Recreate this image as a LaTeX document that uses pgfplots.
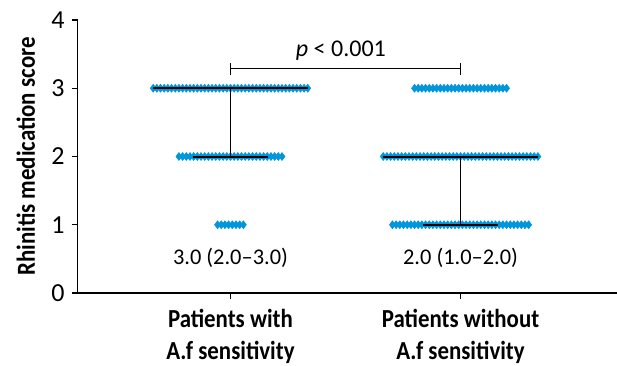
\documentclass[border=0pt]{standalone}
\usepackage{pgfplots}
\pgfplotsset{compat=1.18}
\usepackage{fontspec}
\setmainfont{Carlito}
\newfontfamily\condfont{Carlito}[FakeStretch=0.88]
\definecolor{dotblue}{RGB}{0,150,220}
\begin{document}
\begin{tikzpicture}
\begin{axis}[
  name=ax,
  set layers,
  scale only axis,
  width=269.65pt, height=136.5pt,
  xmin=0.336, xmax=2.68,
  ymin=0, ymax=4,
  axis x line=bottom, axis y line=left,
  axis line style={-, line width=0.6pt},
  tick style={black, line width=0.6pt},
  tick align=outside,
  major tick length=3pt,
  xtick={1,2},
  xticklabels={{Patients with\\A.f sensitivity},{Patients without\\A.f sensitivity}},
  xticklabel style={align=center, yshift=-1.5pt, font=\fontsize{13}{16}\selectfont\condfont\bfseries},
  ytick={0,1,2,3,4},
  yticklabel style={font=\fontsize{13}{15}\selectfont},
  /pgf/number format/assume math mode=true,
  ylabel={Rhinitis medication score},
  ylabel style={at={(axis description cs:-0.0964,0.5)}, anchor=center, font=\fontsize{13}{15}\selectfont\condfont\bfseries},
  clip=false,
]
% group 1, score 3
\addplot[only marks, mark=diamond*, mark size=1.9pt, color=dotblue] coordinates {
(0.664,3)(0.680,3)(0.696,3)(0.712,3)(0.728,3)(0.744,3)(0.760,3)(0.776,3)(0.792,3)(0.808,3)
(0.824,3)(0.840,3)(0.856,3)(0.872,3)(0.888,3)(0.904,3)(0.920,3)(0.936,3)(0.952,3)(0.968,3)
(0.984,3)(1.000,3)(1.016,3)(1.032,3)(1.048,3)(1.064,3)(1.080,3)(1.096,3)(1.112,3)(1.128,3)
(1.144,3)(1.160,3)(1.176,3)(1.192,3)(1.208,3)(1.224,3)(1.240,3)(1.256,3)(1.272,3)(1.288,3)
(1.304,3)(1.320,3)(1.336,3)
};
% group 1, score 2
\addplot[only marks, mark=diamond*, mark size=1.9pt, color=dotblue] coordinates {
(0.776,2)(0.792,2)(0.808,2)(0.824,2)(0.840,2)(0.856,2)(0.872,2)(0.888,2)(0.904,2)(0.920,2)
(0.936,2)(0.952,2)(0.968,2)(0.984,2)(1.000,2)(1.016,2)(1.032,2)(1.048,2)(1.064,2)(1.080,2)
(1.096,2)(1.112,2)(1.128,2)(1.144,2)(1.160,2)(1.176,2)(1.192,2)(1.208,2)(1.224,2)
};
% group 1, score 1
\addplot[only marks, mark=diamond*, mark size=1.9pt, color=dotblue] coordinates {
(0.944,1)(0.960,1)(0.976,1)(0.992,1)(1.008,1)(1.024,1)(1.040,1)(1.056,1)
};
% group 2, score 3
\addplot[only marks, mark=diamond*, mark size=1.9pt, color=dotblue] coordinates {
(1.800,3)(1.816,3)(1.832,3)(1.848,3)(1.864,3)(1.880,3)(1.896,3)(1.912,3)(1.928,3)(1.944,3)
(1.960,3)(1.976,3)(1.992,3)(2.008,3)(2.024,3)(2.040,3)(2.056,3)(2.072,3)(2.088,3)(2.104,3)
(2.120,3)(2.136,3)(2.152,3)(2.168,3)(2.184,3)(2.200,3)
};
% group 2, score 2
\addplot[only marks, mark=diamond*, mark size=1.9pt, color=dotblue] coordinates {
(1.664,2)(1.680,2)(1.696,2)(1.712,2)(1.728,2)(1.744,2)(1.760,2)(1.776,2)(1.792,2)(1.808,2)
(1.824,2)(1.840,2)(1.856,2)(1.872,2)(1.888,2)(1.904,2)(1.920,2)(1.936,2)(1.952,2)(1.968,2)
(1.984,2)(2.000,2)(2.016,2)(2.032,2)(2.048,2)(2.064,2)(2.080,2)(2.096,2)(2.112,2)(2.128,2)
(2.144,2)(2.160,2)(2.176,2)(2.192,2)(2.208,2)(2.224,2)(2.240,2)(2.256,2)(2.272,2)(2.288,2)
(2.304,2)(2.320,2)(2.336,2)
};
% group 2, score 1
\addplot[only marks, mark=diamond*, mark size=1.9pt, color=dotblue] coordinates {
(1.704,1)(1.720,1)(1.736,1)(1.752,1)(1.768,1)(1.784,1)(1.800,1)(1.816,1)(1.832,1)(1.848,1)
(1.864,1)(1.880,1)(1.896,1)(1.912,1)(1.928,1)(1.944,1)(1.960,1)(1.976,1)(1.992,1)(2.008,1)
(2.024,1)(2.040,1)(2.056,1)(2.072,1)(2.088,1)(2.104,1)(2.120,1)(2.136,1)(2.152,1)(2.168,1)
(2.184,1)(2.200,1)(2.216,1)(2.232,1)(2.248,1)(2.264,1)(2.280,1)(2.296,1)
};
% median and IQR lines
\addplot[black, line width=1pt, on layer=axis foreground] coordinates {(0.664,3)(1.336,3)};
\addplot[black, line width=1pt, on layer=axis foreground] coordinates {(0.835,2)(1.165,2)};
\addplot[black, line width=0.7pt, on layer=axis foreground] coordinates {(1,3)(1,2)};
\addplot[black, line width=1pt, on layer=axis foreground] coordinates {(1.664,2)(2.336,2)};
\addplot[black, line width=1pt, on layer=axis foreground] coordinates {(1.837,1)(2.163,1)};
\addplot[black, line width=0.7pt, on layer=axis foreground] coordinates {(2,2)(2,1)};
% significance bracket
\addplot[black, line width=0.6pt] coordinates {(1,3.29)(2,3.29)};
\addplot[black, line width=0.6pt] coordinates {(1,3.37)(1,3.194)};
\addplot[black, line width=0.6pt] coordinates {(2,3.37)(2,3.194)};
\node[font=\fontsize{12}{14}\selectfont] at (axis cs:1.48,3.55) {\textit{p} < 0.001};
\node[font=\fontsize{11.2}{14}\selectfont] at (axis cs:1,0.52) {3.0 (2.0--3.0)};
\node[font=\fontsize{11.2}{14}\selectfont] at (axis cs:2,0.52) {2.0 (1.0--2.0)};
\end{axis}
\pgfresetboundingbox
\path ([xshift=-38.85pt,yshift=10pt]ax.north west) rectangle ([yshift=-36pt]ax.south east);
\end{tikzpicture}
\end{document}
